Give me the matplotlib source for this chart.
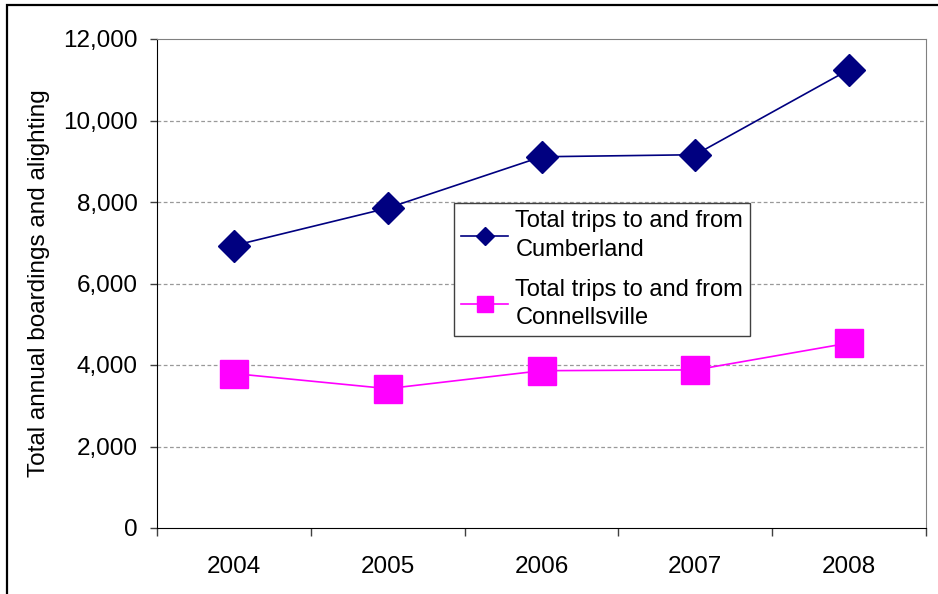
import numpy as np
import matplotlib.pyplot as plt
from matplotlib.patches import Rectangle

plt.rcParams['font.family'] = ['Liberation Sans', 'DejaVu Sans']

years = ["2004", "2005", "2006", "2007", "2008"]
cumberland = [6930, 7850, 9110, 9160, 11250]
connellsville = [3790, 3420, 3860, 3880, 4540]
labels = ["Total trips to and from\nCumberland", "Total trips to and from\nConnellsville"]

fs = 17.5

fig = plt.figure(figsize=(9.38, 5.94), dpi=100)
ax = fig.add_axes([157 / 938, 1 - 528 / 594, (926 - 157) / 938, (528 - 39) / 594])

x = np.arange(len(years))
ax.plot(x, cumberland, color='#000080', linewidth=1.2, marker='D', markersize=16,
        markerfacecolor='#000080', markeredgecolor='#000080', label=labels[0])
ax.plot(x, connellsville, color='#FF00FF', linewidth=1.2, marker='s', markersize=20,
        markerfacecolor='#FF00FF', markeredgecolor='#FF00FF', label=labels[1])

ax.set_xlim(-0.5, len(years) - 0.5)
ax.set_ylim(0, 12000)
ax.set_yticks(np.arange(0, 12001, 2000))
ax.set_yticklabels([f"{v:,}" for v in range(0, 12001, 2000)])
ax.set_xticks(np.arange(-0.5, len(years), 1.0))
ax.set_xticklabels([])
ax.set_xticks(x, minor=True)
ax.set_xticklabels(years, minor=True)
ax.tick_params(axis='x', which='major', direction='out', length=6, width=1, color='#404040')
ax.tick_params(axis='x', which='minor', length=0, pad=20, labelsize=fs)
ax.tick_params(axis='y', direction='out', length=5, width=1, color='#404040', pad=9, labelsize=fs)

for y in range(2000, 12000, 2000):
    ax.axhline(y, color='#999999', linestyle=(0, (3, 2)), linewidth=0.9, zorder=0)

ax.spines['top'].set_color('#808080')
ax.spines['right'].set_color('#808080')
ax.spines['left'].set_color('black')
ax.spines['bottom'].set_color('black')

ax.set_ylabel("Total annual boardings and alighting", fontsize=fs, labelpad=9)

leg = ax.legend(loc='upper left', bbox_to_anchor=(454 / 938, 1 - 203 / 594),
                bbox_transform=fig.transFigure, fontsize=17, frameon=True, fancybox=False,
                framealpha=1, edgecolor='#404040', markerscale=0.6, handlelength=2.0,
                borderpad=0.3, labelspacing=0.75, handletextpad=0.3, borderaxespad=0)
leg.get_frame().set_linewidth(1.0)
for t in leg.get_texts():
    t.set_linespacing(1.4)

fig.patches.append(Rectangle((7 / 938, -0.1), 1.2, 1 - 5 / 594 + 0.1, transform=fig.transFigure,
                             fill=False, edgecolor='black', linewidth=1.6))

fig.savefig("out.png", dpi=100)
